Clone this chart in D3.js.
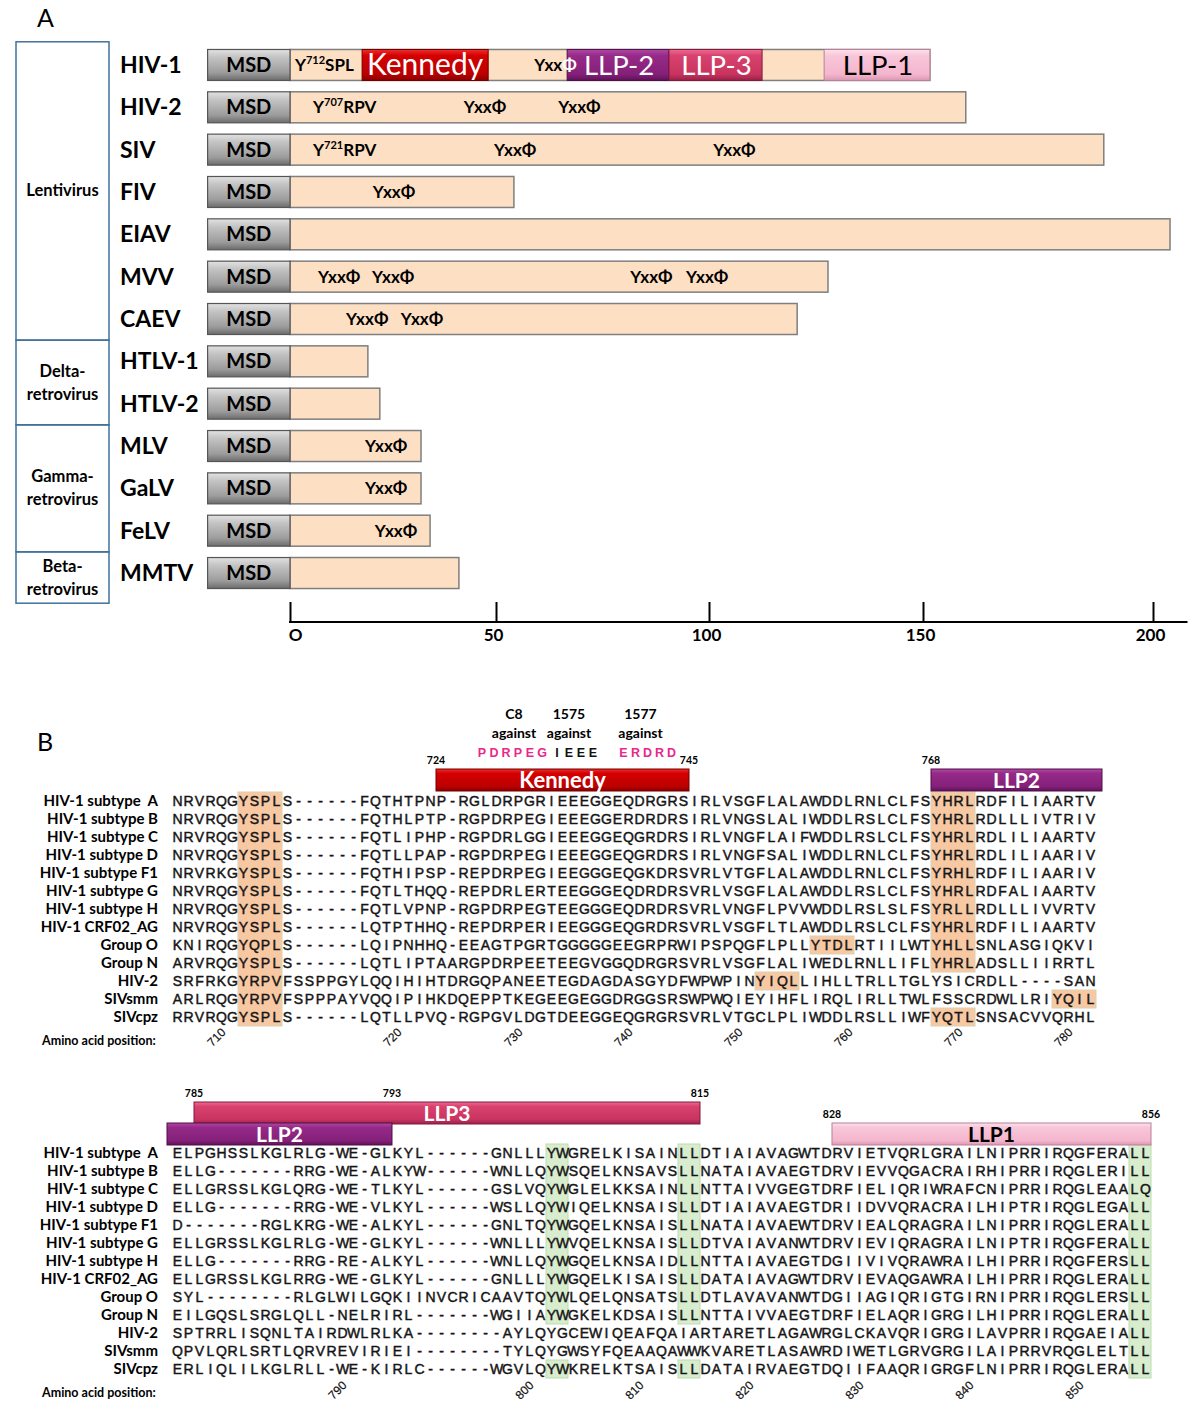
<!DOCTYPE html>
<html><head><meta charset="utf-8">
<script src="https://cdn.jsdelivr.net/npm/d3@7"></script>
<style>body{margin:0;background:#fff} svg{display:block}</style>
</head><body>
<script>
// ================= DATA =================
// Panel A
const viruses = ["HIV-1","HIV-2","SIV","FIV","EIAV","MVV","CAEV","HTLV-1","HTLV-2","MLV","GaLV","FeLV","MMTV"];
const tailLengths = [151.5,159.3,189.3,54.2,203.7,127.8,120.6,18.9,21.8,31.8,31.8,34,41];
const msdStart = -20;
const genusNames = [["Lentivirus"],["Delta-","retrovirus"],["Gamma-","retrovirus"],["Beta-","retrovirus"]];
const genusFirst = ["HIV-1","HTLV-1","MLV","MMTV"];
const genusLast = ["CAEV","HTLV-2","FeLV","MMTV"];
const hiv1Domains = ["Kennedy","LLP-2","LLP-3","LLP-1"];
const hiv1DomainStart = [17.5,66.7,90.6,126.9];
const hiv1DomainEnd = [48.1,90.6,112.4,151.5];
const motifVirus = ["HIV-1","HIV-1","HIV-2","HIV-2","HIV-2","SIV","SIV","SIV","FIV","MVV","MVV","MVV","MVV","CAEV","CAEV","MLV","GaLV","FeLV"];
const motifPos = [1.2,59,5.6,42.2,64.6,5.6,49.5,101,20.1,6.8,19.9,81.5,94.6,13.6,26.9,18.2,18.2,20.6];
const motifLabel = ["Y^712^SPL","YxxΦ","Y^707^RPV","YxxΦ","YxxΦ","Y^721^RPV","YxxΦ","YxxΦ","YxxΦ","YxxΦ","YxxΦ","YxxΦ","YxxΦ","YxxΦ","YxxΦ","YxxΦ","YxxΦ","YxxΦ"];
const axisTicks = [0,50,100,150,200];

// Panel B
const seqNames = ["HIV-1 subtype  A","HIV-1 subtype B","HIV-1 subtype C","HIV-1 subtype D","HIV-1 subtype F1","HIV-1 subtype G","HIV-1 subtype H","HIV-1 CRF02_AG","Group O","Group N","HIV-2","SIVsmm","SIVcpz"];
const seqPart1 = [
"NRVRQGYSPLS------FQTHTPNP-RGLDRPGRIEEEGGEQDRGRSIRLVSGFLALAWDDLRNLCLFSYHRLRDFILIAARTV",
"NRVRQGYSPLS------FQTHLPTP-RGPDRPEGIEEEGGERDRDRSIRLVNGSLALIWDDLRSLCLFSYHRLRDLLLIVTRIV",
"NRVRQGYSPLS------FQTLIPHP-RGPDRLGGIEEEGGEQGRDRSIRLVNGFLAIFWDDLRSLCLFSYHRLRDLILIAARTV",
"NRVRQGYSPLS------FQTLLPAP-RGPDRPEGIEEEGGEQGRDRSIRLVNGFSALIWDDLRNLCLFSYHRLRDLILIAARIV",
"NRVRKGYSPLS------FQTHIPSP-REPDRPEGIEEGGGEQGKDRSVRLVTGFLALAWDDLRNLCLFSYRHLRDFILIAARIV",
"NRVRQGYSPLS------FQTLTHQQ-REPDRLERTEEGGGEQDRDRSVRLVSGFLALAWDDLRSLCLFSYHRLRDFALIAARTV",
"NRVRQGYSPLS------FQTLVPNP-RGPDRPEGTEEGGGEQDRDRSVRLVNGFLPVVWDDLRSLSLFSYRLLRDLLLIVVRTV",
"NRVRQGYSPLS------LQTPTHHQ-REPDRPERIEEGGGEQGRDRSVRLVSGFLTLAWDDLRSLCLFSYHRLRDFILIAARTV",
"KNIRQGYQPLS------LQIPNHHQ-EEAGTPGRTGGGGGEEGRPRWIPSPQGFLPLLYTDLRTIILWTYHLLSNLASGIQKVI",
"ARVRQGYSPLS------LQTLIPTAARGPDRPEETEEGVGGQDRGRSVRLVSGFLALIWEDLRNLLIFLYHRLADSLLIIRRTL",
"SRFRKGYRPVFSSPPGYLQQIHIHTDRGQPANEETEGDAGDASGYDFWPWPINYIQLLIHLLTRLLTGLYSICRDLL----SAN",
"ARLRQGYRPVFSPPPAYVQQIPIHKDQEPPTKEGEEGEGGDRGGSRSWPWQIEYIHFLIRQLIRLLTWLFSSCRDWLLRIYQIL",
"RRVRQGYSPLS------LQTLLPVQ-RGPGVLDGTDEEGGEQGRGRSVRLVTGCLPLIWDDLRSLLIWFYQTLSNSACVVQRHL"];
const seqPart2 = [
"ELPGHSSLKGLRLG-WE-GLKYL------GNLLLYWGRELKISAINLLDTIAIAVAGWTDRVIETVQRLGRAILNIPRRIRQGFERALL",
"ELLG-------RRG-WE-ALKYW------WNLLQYWSQELKNSAVSLLNATAIAVAEGTDRVIEVVQGACRAIRHIPRRIRQGLERILL",
"ELLGRSSLKGLQRG-WE-TLKYL------GSLVQYWGLELKKSAINLLNTTAIVVGEGTDRFIELIQRIWRAFCNIPRRIRQGLEAALQ",
"ELLG-------RRG-WE-VLKYL------WSLLQYWIQELKNSAISLLDTIAIAVAEGTDRIIDVVQRACRAILHIPTRIRQGLEGALL",
"D-------RGLKRG-WE-ALKYL------GNLTQYWGQELKNSAISLLNATAIAVAEWTDRVIEALQRAGRAILNIPRRIRQGLERALL",
"ELLGRSSLKGLRLG-WE-GLKYL------WNLLLYWVQELKNSAISLLDTVAIAVANWTDRVIEVIQRAGRAILNIPTRIRQGFERALL",
"ELLG-------RRG-RE-ALKYL------WNLLQYWGQELKNSAIDLLNTTAIAVAEGTDGIIVIVQRAWRAILHIPRRIRQGFERSLL",
"ELLGRSSLKGLRRG-WE-GLKYL------GNLLLYWGQELKISAISLLDATAIAVAGWTDRVIEVAQGAWRAILHIPRRIRQGLERALL",
"SYL--------RLGLWILGQKIINVCRICAAVTQYWLQELQNSATSLLDTLAVAVANWTDGIIAGIQRIGTGIRNIPRRIRQGLERSLL",
"EILGQSLSRGLQLL-NELRIRL-------WGIIAYWGKELKDSAISLLNTTAIVVAEGTDRFIELAQRIGRGILHIPRRIRQGLERALL",
"SPTRRLISQNLTAIRDWLRLKA--------AYLQYGCEWIQEAFQAIARTARETLAGAWRGLCKAVQRIGRGILAVPRRIRQGAEIALL",
"QPVLQRLSRTLQRVREVIRIEI--------TYLQYGWSYFQEAAQAWWKVARETLASAWRDIWETLGRVGRGILAIPRRVRQGLELTLL",
"ERLIQLILKGLRLL-WE-KIRLC------WGVLQYWKRELKTSAISLLDATAIRVAEGTDQIIFAAQRIGRGFLNIPRRIRQGLERALL"];
const refRow = 1;                 // HXB2 (subtype B) numbering
const partStartPos = [706, 783];
const posTicks1 = [710,720,730,740,750,760,770,780];
const posTicks2 = [790,800,810,820,830,840,850];
const domNames1 = ["Kennedy","LLP2"], domStart1 = [724,768], domEnd1 = [745,782], domLane1=[0,0], domCont1=["","right"];
const domNames2 = ["LLP3","LLP2","LLP1"], domStart2=[785,783,828], domEnd2=[815,793,856], domLane2=[0,1,1], domCont2=["","left",""];
// highlighted motif boxes: [col start, col end, row start, row end] (1-based columns)
const hl1 = [[7,10,0,12],[70,73,0,9],[70,73,12,12],[59,62,8,8],[54,57,10,10],[81,84,11,11]];
const hl2 = [[35,36,0,9],[35,36,12,12],[47,48,0,9],[47,48,12,12],[88,89,0,12]];
// antibody epitopes
const epiAb = ["C8","1575","1577"], epiSeq = ["PDRPEG","IEEE","ERDRD"], epiStart=[727,733,739], epiPink=[true,false,true];

// ================= DRAW =================
const W=1200,H=1421;
const svg = d3.select("body").append("svg").attr("width",W).attr("height",H)
  .style("font-family","Lato, 'Open Sans', sans-serif");
const defs = svg.append("defs");
function grad(id, stops){
  const g=defs.append("linearGradient").attr("id",id).attr("x1",0).attr("y1",0).attr("x2",0).attr("y2",1);
  stops.forEach(([o,c])=>g.append("stop").attr("offset",o).attr("stop-color",c));
}
grad("gMSD",[[0,"#e2e2e2"],[0.25,"#c4c4c4"],[0.75,"#9c9c9c"],[1,"#6c6c6c"]]);
grad("gRed",[[0,"#ee3030"],[0.2,"#d40000"],[0.8,"#bb0000"],[1,"#8a0000"]]);
grad("gPurple",[[0,"#b04aa4"],[0.2,"#962a88"],[0.8,"#84207a"],[1,"#5e1256"]]);
grad("gRose",[[0,"#ee6a90"],[0.2,"#d8426e"],[0.8,"#c8345f"],[1,"#98204a"]]);
grad("gPink",[[0,"#fde2ec"],[0.2,"#f8c6d9"],[0.8,"#f4b6cd"],[1,"#dc97b2"]]);
const domFill = {"Kennedy":"url(#gRed)","LLP-2":"url(#gPurple)","LLP2":"url(#gPurple)","LLP-3":"url(#gRose)","LLP3":"url(#gRose)","LLP-1":"url(#gPink)","LLP1":"url(#gPink)"};
const domStroke = {"Kennedy":"#700000","LLP-2":"#4e0f47","LLP2":"#4e0f47","LLP-3":"#7e1a3c","LLP3":"#7e1a3c","LLP-1":"#b88098","LLP1":"#b88098"};
const domText = {"LLP-1":"#000","LLP1":"#000"};

// ---------- Panel A ----------
svg.append("text").attr("x",37).attr("y",27).attr("font-size",25).text("A");
const xA = d3.scaleLinear().domain(axisTicks).range([290,496,709,923,1153]);
const yA = d3.scaleBand().domain(viruses).range([43.8,594.2]);
const cy = v => yA(v)+yA.bandwidth()/2;
const barH = 31;

const gA = svg.append("g");
genusNames.forEach((nm,i)=>{
  const top = yA(genusFirst[i]) - (i===0?2:0);
  const bot = yA(genusLast[i]) + yA.bandwidth() + (i===genusNames.length-1?9:0);
  gA.append("rect").attr("x",16).attr("y",top).attr("width",93).attr("height",bot-top)
    .attr("fill","none").attr("stroke","#41719c").attr("stroke-width",1.5);
  const mid=(top+bot)/2, n=nm.length;
  nm.forEach((t,j)=>gA.append("text").attr("x",62.5).attr("y",mid+5.5+(j-(n-1)/2)*23)
    .attr("text-anchor","middle").attr("font-size",16.5).attr("font-weight",700).text(t));
});

gA.selectAll("text.vname").data(viruses).join("text").attr("class","vname")
  .attr("x",120).attr("y",d=>cy(d)+8).attr("font-size",23).attr("font-weight",700).text(d=>d);

gA.selectAll("rect.tail").data(viruses).join("rect").attr("class","tail")
  .attr("x",xA(0)).attr("y",d=>cy(d)-barH/2)
  .attr("width",(d,i)=>xA(tailLengths[i])-xA(0)).attr("height",barH)
  .attr("fill","#fddfc3").attr("stroke","#7f7f7f").attr("stroke-width",1.5);

hiv1Domains.forEach((d,i)=>{
  const x0=xA(hiv1DomainStart[i]), x1=xA(hiv1DomainEnd[i]), y0=cy("HIV-1")-barH/2;
  gA.append("rect").attr("x",x0).attr("y",y0).attr("width",x1-x0).attr("height",barH)
    .attr("fill",domFill[d]).attr("stroke",domStroke[d]).attr("stroke-width",1);
});
gA.selectAll("g.msd").data(viruses).join("g").attr("class","msd").each(function(d){
  const g=d3.select(this), y0=cy(d)-barH/2;
  g.append("rect").attr("x",xA(msdStart)).attr("y",y0).attr("width",xA(0)-xA(msdStart)).attr("height",barH)
    .attr("fill","url(#gMSD)").attr("stroke","#555").attr("stroke-width",1.2);
  g.append("text").attr("x",(xA(msdStart)+xA(0))/2).attr("y",cy(d)+7).attr("text-anchor","middle")
    .attr("font-size",20).attr("font-weight",700).text("MSD");
});
motifVirus.forEach((v,i)=>{
  const parts = motifLabel[i].split("^");
  const t = gA.append("text").attr("x",xA(motifPos[i])).attr("y",cy(v)+6).attr("font-weight",700)
    .attr("font-size", 17);
  if(parts.length===3){
    t.append("tspan").text(parts[0]);
    t.append("tspan").attr("font-size",11).attr("dy",-7).text(parts[1]);
    t.append("tspan").attr("dy",7).text(parts[2]);
  } else {
    const s = parts[0];
    t.append("tspan").text(s.slice(0,3));
    t.append("tspan").attr("fill", v==="HIV-1"?"#fff":"#000").text(s.slice(3));
  }
});
hiv1Domains.forEach((d,i)=>{
  const x0=xA(hiv1DomainStart[i]), x1=xA(hiv1DomainEnd[i]);
  gA.append("text").attr("x",(x0+x1)/2+(d==="Kennedy"?0:1)).attr("y",cy("HIV-1")+10.5).attr("text-anchor","middle")
    .attr("font-size",d==="Kennedy"?30:27.5).attr("fill",domText[d]||"#fff").text(d);
});

const axisY = 622;
const ax = svg.append("g").attr("transform",`translate(0,${axisY})`)
  .call(d3.axisBottom(xA).tickValues(axisTicks).tickSizeInner(-20).tickSizeOuter(0).tickPadding(7).tickFormat(d=>d===0?"O":d));
ax.select(".domain").remove();
ax.selectAll(".tick line").attr("stroke","#000").attr("stroke-width",2);
ax.selectAll(".tick text").attr("font-size",17).attr("font-weight",700).attr("font-family","Lato, sans-serif")
  .attr("dx",(d)=>d===0?5:-3).attr("fill","#000");
ax.append("line").attr("x1",xA(0)-1).attr("x2",xA(207.5)).attr("stroke","#000").attr("stroke-width",2.2);

// ---------- Panel B ----------
svg.append("text").attr("x",37).attr("y",751).attr("font-size",25).text("B");
const colW = 11, seqX0 = 172;
function refCols(part){
  const s = (part===0?seqPart1:seqPart2)[refRow];
  const map = {}; let p = partStartPos[part];
  for(let i=0;i<s.length;i++){ if(s[i]!=="-"){ map[p]=i; p++; } }
  return map;
}
function drawPart(part, cfg){
  const seqs = part===0?seqPart1:seqPart2;
  const nCol = seqs[0].length;
  const xc = d3.scaleLinear().domain([0,nCol]).range([seqX0, seqX0+nCol*colW]);
  const yr = d3.scaleBand().domain(d3.range(seqs.length)).range([cfg.rowTop, cfg.rowTop+seqs.length*18]);
  const map = refCols(part);
  const g = svg.append("g");
  (part===0?hl1:hl2).forEach(h=>{
    g.append("rect").attr("x",xc(h[0]-1)).attr("y",yr(h[2])).attr("width",xc(h[1])-xc(h[0]-1))
      .attr("height",yr(h[3])+yr.bandwidth()-yr(h[2]))
      .attr("fill",part===0?"#f7c8a2":"#d8ecce").attr("stroke",part===0?"#d9d2b4":"#bddcac").attr("stroke-width",1);
  });
  g.selectAll("text.sn").data(seqNames).join("text").attr("class","sn")
    .attr("x",158).attr("y",(d,i)=>yr(i)+yr.bandwidth()/2+5).attr("text-anchor","end")
    .attr("font-size",15).attr("font-weight",700).style("white-space","pre").text(d=>d);
  seqs.forEach((s,r)=>{
    const row = g.append("text").attr("y",yr(r)+yr.bandwidth()/2+5)
      .attr("font-family","'Liberation Sans', Arial, sans-serif").attr("font-size",14)
      .attr("fill","#151515").attr("stroke","#151515").attr("stroke-width",0.45).attr("text-anchor","middle");
    row.selectAll("tspan").data(s.split("")).join("tspan")
      .attr("x",(d,i)=>xc(i)+colW/2).text(d=>d);
  });
  g.append("text").attr("x",42).attr("y",cfg.aaY).attr("font-size",12.5).attr("font-weight",700).text("Amino acid position:");
  (part===0?posTicks1:posTicks2).forEach(p=>{
    const c = map[p];
    g.append("text").attr("transform",`translate(${xc(c)+colW/2+2},${cfg.tickY}) rotate(-45)`)
      .attr("text-anchor","end").attr("dy","0.35em").attr("font-family","'Liberation Sans', Arial, sans-serif")
      .attr("font-size",12).attr("fill","#111").attr("stroke","#111").attr("stroke-width",0.2).text(p);
  });
  const names = part===0?domNames1:domNames2, st = part===0?domStart1:domStart2, en = part===0?domEnd1:domEnd2,
        ln = part===0?domLane1:domLane2, ct = part===0?domCont1:domCont2;
  const barsG = svg.append("g"), numsG = svg.append("g");
  const lane0Spans = [];
  names.forEach((n,i)=>{ if(ln[i]===0) lane0Spans.push([xc(map[st[i]]), xc(map[en[i]]+1)]); });
  names.forEach((n,i)=>{
    let x0 = xc(map[st[i]]), x1 = xc(map[en[i]]+1);
    if(ct[i]==="left") x0 -= 5;
    if(ct[i]==="right") x1 += 6;
    const yTop = cfg.barTop + ln[i]*21;
    barsG.append("rect").attr("x",x0).attr("y",yTop).attr("width",x1-x0).attr("height",22)
      .attr("fill",domFill[n]).attr("stroke",domStroke[n]).attr("stroke-width",1);
    barsG.append("text").attr("x",(x0+x1)/2).attr("y",yTop+18.5).attr("text-anchor","middle")
      .attr("font-size",n==="Kennedy"?22:21).attr("font-weight",700).attr("fill",domText[n]||"#fff").text(n);
    const nums = [];
    if(ct[i]!=="left") nums.push([x0, st[i]]);
    if(ct[i]!=="right") nums.push([x1, en[i]]);
    nums.forEach(([x,v])=>{
      const covered = ln[i]>0 && lane0Spans.some(s=>x>=s[0]-2 && x<=s[1]+2);
      const yy = (covered?cfg.barTop:yTop) - 5;
      numsG.append("text").attr("x",x).attr("y",yy).attr("text-anchor","middle")
        .attr("font-size",10.5).attr("font-weight",700).text(v);
    });
  });
  return {xc, map};
}
const p1 = drawPart(0,{rowTop:792, barTop:769, aaY:1045, tickY:1030});
drawPart(1,{rowTop:1144, barTop:1102, aaY:1397, tickY:1383});

// epitopes
const eg = svg.append("g");
const epiGap = [-1,7,8];
epiAb.forEach((ab,i)=>{
  const cols = d3.range(epiSeq[i].length).map(k=>p1.map[epiStart[i]+k]);
  const xs = cols.map(c=>p1.xc(c)+colW/2);
  const mid = (xs[0]+xs[xs.length-1])/2;
  eg.append("text").attr("x",mid+1).attr("y",719).attr("text-anchor","middle").attr("font-size",14).attr("font-weight",700).text(ab);
  eg.append("text").attr("x",mid+1).attr("y",738).attr("text-anchor","middle").attr("font-size",14).attr("font-weight",700).text("against");
  const n = epiSeq[i].length;
  epiSeq[i].split("").forEach((ch,k)=>{
    eg.append("text").attr("x",mid + epiGap[i] + (k-(n-1)/2)*12).attr("y",757).attr("text-anchor","middle")
      .attr("font-family","'Liberation Sans', Arial, sans-serif").attr("font-size",12.5).attr("font-weight",700)
      .attr("fill",epiPink[i]?"#e8288a":"#111").text(ch);
  });
});
</script>
</body></html>
